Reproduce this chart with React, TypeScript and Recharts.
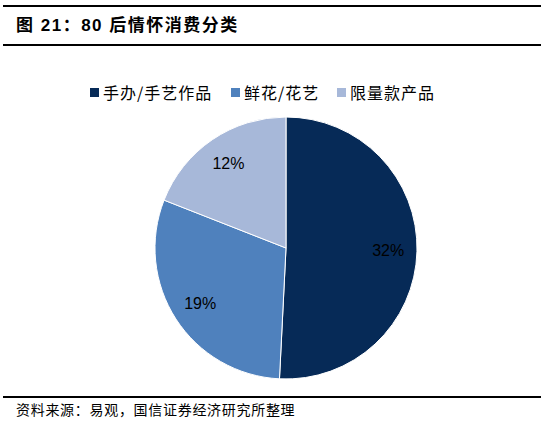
import React from 'react'
import { PieChart, Pie, Cell } from 'recharts'

const categories = ['手办/手艺作品', '鲜花/花艺', '限量款产品']
const values = [32, 19, 12]
const colors = ['#062a57', '#4f81bd', '#a7b8d9']

const chartData = categories.map((name, i) => ({ name, value: values[i] }))

const RADIAN = Math.PI / 180

const renderLabel = ({ cx, cy, midAngle, outerRadius, value }: any) => {
  const r = outerRadius * 0.78
  const x = cx + r * Math.cos(-midAngle * RADIAN)
  const y = cy + r * Math.sin(-midAngle * RADIAN)
  return (
    <text
      x={x}
      y={y}
      fill="#000"
      fontSize={16}
      fontFamily="'Liberation Sans', Arial, sans-serif"
      textAnchor="middle"
      dominantBaseline="central"
    >
      {value}%
    </text>
  )
}

const legendLeft = [90, 231, 337]

export default function App() {
  return (
    <div
      style={{
        position: 'absolute',
        left: 0,
        top: 0,
        width: 549,
        height: 424,
        background: '#fff',
        fontFamily: "'Noto Sans CJK SC', sans-serif",
        overflow: 'hidden',
      }}
    >
      <div style={{ position: 'absolute', left: 3, right: 8, top: 5, height: 2, background: '#000' }} />
      <div
        style={{
          position: 'absolute',
          left: 16,
          top: 14,
          fontSize: 17,
          fontWeight: 700,
          letterSpacing: 1.5,
          color: '#000',
          lineHeight: '24px',
          fontFamily: "'Liberation Sans', 'Noto Sans CJK SC', sans-serif",
          whiteSpace: 'nowrap',
        }}
      >
        图 21：80 后情怀消费分类
      </div>
      <div style={{ position: 'absolute', left: 3, right: 8, top: 44, height: 2, background: '#000' }} />

      {categories.map((c, i) => (
        <div
          key={c}
          style={{
            position: 'absolute',
            top: 82,
            left: legendLeft[i],
            display: 'flex',
            alignItems: 'center',
            fontSize: 16,
            letterSpacing: 1,
            lineHeight: '20px',
            color: '#000',
            whiteSpace: 'nowrap',
          }}
        >
          <span style={{ width: 9, height: 9, background: colors[i], marginRight: 4, display: 'inline-block' }} />
          <span>{c}</span>
        </div>
      ))}

      <div style={{ position: 'absolute', left: 0, top: 0 }}>
        <PieChart width={549} height={424} margin={{ top: 0, right: 0, bottom: 0, left: 0 }}>
          <Pie
            data={chartData}
            dataKey="value"
            nameKey="name"
            cx={286}
            cy={248}
            outerRadius={131}
            startAngle={90}
            endAngle={-270}
            stroke="#fff"
            strokeWidth={1}
            label={renderLabel}
            labelLine={false}
            isAnimationActive={false}
          >
            {chartData.map((d, i) => (
              <Cell key={d.name} fill={colors[i]} />
            ))}
          </Pie>
        </PieChart>
      </div>

      <div style={{ position: 'absolute', left: 3, right: 8, top: 396, height: 2, background: '#000' }} />
      <div
        style={{
          position: 'absolute',
          left: 16,
          top: 400,
          fontSize: 14,
          letterSpacing: 0.7,
          lineHeight: '18px',
          color: '#000',
          whiteSpace: 'nowrap',
        }}
      >
        资料来源：易观，国信证券经济研究所整理
      </div>
    </div>
  )
}
